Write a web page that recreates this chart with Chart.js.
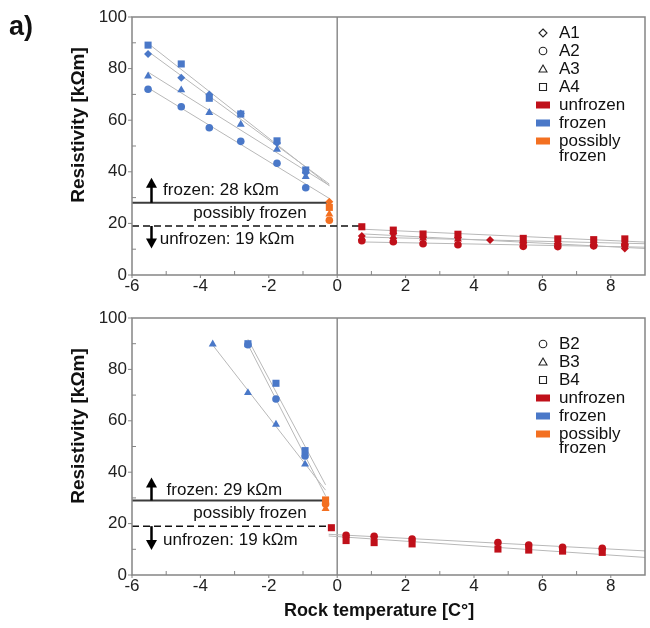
<!DOCTYPE html>
<html>
<head>
<meta charset="utf-8">
<script src="https://cdn.jsdelivr.net/npm/chart.js@4.4.0/dist/chart.umd.min.js"></script>
<style>
  html, body { margin: 0; padding: 0; background: #fff; }
  #wrap { position: relative; width: 650px; height: 628px; }
  canvas { position: absolute; left: 0; }
  #chartA { top: 0; }
  #chartB { top: 300px; }
</style>
</head>
<body>
<div id="wrap">
  <canvas id="chartA" width="650" height="300"></canvas>
  <canvas id="chartB" width="650" height="328"></canvas>
</div>
<script>
const BLUE = '#4a78c8', RED = '#c0101a', ORANGE = '#f37021';
const FONT = "'Liberation Sans', Arial, sans-serif";

const xTicks = [-6, -4, -2, 0, 2, 4, 6, 8];
const yTicks = [0, 20, 40, 60, 80, 100];

// --- panel a, upper: samples A1..A4
const tempAFrozen = [-5.53, -4.56, -3.74, -2.82, -1.76, -0.92];
const tempAPossibly = [-0.23];
const tempAUnfrozen = [0.72, 1.64, 2.51, 3.53, 4.47, 5.44, 6.45, 7.5, 8.41];
const a1Frozen = [85.7, 76.5, 70.0, 62.6, 51.2, 39.6];
const a2Frozen = [72.0, 65.2, 57.1, 51.8, 43.3, 33.8];
const a3Frozen = [77.1, 71.7, 62.9, 58.4, 48.7, 38.1];
const a4Frozen = [89.1, 81.8, 68.5, 62.4, 52.0, 40.7];
const a1Possibly = [28.4];
const a2Possibly = [21.2];
const a3Possibly = [23.6];
const a4Possibly = [26.2];
const a1Unfrozen = [15.1, 16.0, 14.6, 14.4, 13.6, 12.6, 12.1, 11.4, 10.3];
const a2Unfrozen = [13.3, 12.9, 12.1, 11.7, null, 11.1, 11.0, 11.3, 11.6];
const a3Unfrozen = [14.4, 14.8, 14.3, 13.9, null, 13.0, 12.7, 12.5, 12.6];
const a4Unfrozen = [18.7, 17.4, 15.9, 15.8, null, 14.2, 14.0, 13.7, 14.0];
const frozenLimitA = 28, unfrozenLimitA = 19;

// --- lower: samples B2..B4
const tempBFrozen = [-3.64, -2.61, -1.79, -0.94];
const tempBPossibly = [-0.34];
const tempBUnfrozen = [-0.17, 0.26, 1.08, 2.19, 4.7, 5.6, 6.59, 7.75];
const b2Frozen = [null, 89.6, 68.5, 46.3];
const b3Frozen = [89.8, 70.9, 58.6, 43.1];
const b4Frozen = [null, 90.0, 74.6, 48.4];
const b2Possibly = [27.6];
const b3Possibly = [25.8];
const b4Possibly = [29.2];
const b2Unfrozen = [null, 15.4, 15.1, 14.0, 12.6, 11.7, 10.8, 10.4];
const b4Unfrozen = [18.4, 13.4, 12.6, 12.1, 10.1, 9.7, 9.3, 8.8];
const frozenLimitB = 29, unfrozenLimitB = 19;

const legendA = ['A1', 'A2', 'A3', 'A4'];
const legendB = ['B2', 'B3', 'B4'];
const stateLabels = ['unfrozen', 'frozen', 'possibly frozen'];

const radius = { rect: 5, rectRot: 4, circle: 3.8, triangle: 4.6 };

function pts(xs, ys) {
  return xs.map((x, i) => ({ x: x, y: ys[i] })).filter(p => p.y != null);
}

function fit(xs, ys, x0, x1) {
  const p = pts(xs, ys);
  const n = p.length;
  const mx = p.reduce((s, q) => s + q.x, 0) / n;
  const my = p.reduce((s, q) => s + q.y, 0) / n;
  let sxy = 0, sxx = 0;
  p.forEach(q => { sxy += (q.x - mx) * (q.y - my); sxx += (q.x - mx) * (q.x - mx); });
  const m = sxy / sxx, b = my - m * mx;
  return [{ x: x0, y: m * x0 + b }, { x: x1, y: m * x1 + b }];
}

function markers(xs, ys, color, style) {
  return {
    data: pts(xs, ys), pointStyle: style, pointRadius: radius[style],
    backgroundColor: color, borderColor: color, borderWidth: 0, showLine: false, order: 1
  };
}

function trend(xs, ys, x0, x1) {
  return {
    data: fit(xs, ys, x0, x1), showLine: true, pointRadius: 0,
    borderColor: '#b8b8b8', borderWidth: 1, order: 2
  };
}

function line(ctx, x0, y0, x1, y1) {
  ctx.beginPath(); ctx.moveTo(x0, y0); ctx.lineTo(x1, y1); ctx.stroke();
}

function arrow(ctx, x, yFrom, yTo) {
  const dir = yTo < yFrom ? -1 : 1;
  ctx.strokeStyle = '#000'; ctx.fillStyle = '#000'; ctx.lineWidth = 2.5;
  line(ctx, x, yFrom, x, yTo - dir * 8);
  ctx.beginPath();
  ctx.moveTo(x, yTo);
  ctx.lineTo(x - 5.5, yTo - dir * 10);
  ctx.lineTo(x + 5.5, yTo - dir * 10);
  ctx.closePath(); ctx.fill();
}

function shape(ctx, kind, x, y) {
  ctx.strokeStyle = '#222'; ctx.lineWidth = 1.1;
  ctx.beginPath();
  if (kind === 'A1') { ctx.moveTo(x, y - 4); ctx.lineTo(x + 4, y); ctx.lineTo(x, y + 4); ctx.lineTo(x - 4, y); ctx.closePath(); }
  else if (kind.endsWith('2')) { ctx.arc(x, y, 3.8, 0, Math.PI * 2); }
  else if (kind.endsWith('3')) { ctx.moveTo(x, y - 4); ctx.lineTo(x + 4, y + 3); ctx.lineTo(x - 4, y + 3); ctx.closePath(); }
  else { ctx.rect(x - 3.5, y - 3.5, 7, 7); }
  ctx.stroke();
}

const decor = {
  id: 'decor',
  beforeDatasetsDraw(chart, args, o) {
    const { ctx, chartArea: a, scales: { x, y } } = chart;
    ctx.save();
    ctx.strokeStyle = '#8c8c8c'; ctx.lineWidth = 1.5;
    line(ctx, x.getPixelForValue(0), a.top, x.getPixelForValue(0), a.bottom);

    const yf = y.getPixelForValue(o.frozen), yu = y.getPixelForValue(o.unfrozen);
    ctx.strokeStyle = '#3c3c3c'; ctx.lineWidth = 2;
    line(ctx, a.left, yf, x.getPixelForValue(o.frozenEnd), yf);
    ctx.setLineDash([7, 4]); ctx.strokeStyle = '#111'; ctx.lineWidth = 1.5;
    line(ctx, a.left, yu, x.getPixelForValue(o.unfrozenEnd), yu);
    ctx.setLineDash([]);

    const ax = x.getPixelForValue(o.arrowX);
    arrow(ctx, ax, yf, y.getPixelForValue(o.upTip));
    arrow(ctx, ax, yu, y.getPixelForValue(o.downTip));

    ctx.fillStyle = '#111'; ctx.font = '17px ' + FONT; ctx.textBaseline = 'middle';
    o.texts.forEach(t => {
      ctx.textAlign = t.align;
      ctx.fillText(t.text, x.getPixelForValue(t.x), y.getPixelForValue(t.y));
    });
    ctx.restore();
  },
  afterDraw(chart, args, o) {
    const { ctx, chartArea: a, scales: { x, y } } = chart;
    ctx.save();
    // frame
    ctx.strokeStyle = '#858585'; ctx.lineWidth = 1.5;
    ctx.strokeRect(a.left, a.top, a.right - a.left, a.bottom - a.top);
    // ticks: major outward, minor inward
    ctx.lineWidth = 1;
    yTicks.forEach(v => { const p = y.getPixelForValue(v); line(ctx, a.left - 4, p, a.left, p); });
    xTicks.forEach(v => { const p = x.getPixelForValue(v); line(ctx, p, a.bottom, p, a.bottom + 3); });
    for (let v = 10; v < 100; v += 20) { const p = y.getPixelForValue(v); line(ctx, a.left, p, a.left + 4, p); }
    for (let v = -5; v < 9; v += 2) { const p = x.getPixelForValue(v); line(ctx, p, a.bottom, p, a.bottom - 4); }

    // legend
    const lx = a.right - 102, tx = a.right - 86;
    let ly = a.top + o.legendTop;
    ctx.font = '17px ' + FONT; ctx.textBaseline = 'middle'; ctx.textAlign = 'left'; ctx.fillStyle = '#111';
    o.samples.forEach(s => {
      shape(ctx, s, lx, ly);
      ctx.fillStyle = '#111'; ctx.fillText(s, tx, ly);
      ly += 18;
    });
    const cols = [RED, BLUE, ORANGE];
    stateLabels.forEach((lab, i) => {
      ctx.fillStyle = cols[i]; ctx.fillRect(lx - 7, ly - 3.5, 14, 7);
      ctx.fillStyle = '#111';
      const parts = lab === 'possibly frozen' ? ['possibly', 'frozen'] : [lab];
      parts.forEach((p, j) => ctx.fillText(p, tx, ly + j * o.wrap));
      ly += 18;
    });

    // axis titles
    ctx.font = 'bold 19px ' + FONT; ctx.fillStyle = '#111';
    ctx.save();
    ctx.translate(79, a.top + 108); ctx.rotate(-Math.PI / 2);
    ctx.textAlign = 'center'; ctx.fillText('Resistivity [kΩm]', 0, 0);
    ctx.restore();
    if (o.xTitle) {
      ctx.font = 'bold 18px ' + FONT; ctx.textAlign = 'center';
      ctx.fillText(o.xTitle, 379, a.bottom + 36);
    }
    if (o.panel) {
      ctx.font = 'bold 27px ' + FONT; ctx.textAlign = 'left';
      ctx.fillText(o.panel, 9, 28);
    }
    ctx.restore();
  }
};

function options(top, xh, deco) {
  return {
    responsive: false,
    animation: false,
    layout: { padding: { top: top, right: 1, left: 0, bottom: 0 } },
    plugins: { legend: { display: false }, tooltip: { enabled: false }, decor: deco },
    scales: {
      x: {
        type: 'linear', min: -6, max: 9,
        grid: { display: false, drawTicks: false }, border: { display: false },
        ticks: { padding: 1, color: '#222', font: { size: 17, family: FONT } },
        afterBuildTicks: s => { s.ticks = xTicks.map(v => ({ value: v })); },
        afterFit: s => { s.height = xh; }
      },
      y: {
        type: 'linear', min: 0, max: 100,
        grid: { display: false, drawTicks: false }, border: { display: false },
        ticks: { padding: 5, color: '#222', font: { size: 17, family: FONT } },
        afterBuildTicks: s => { s.ticks = yTicks.map(v => ({ value: v })); },
        afterFit: s => { s.width = 132; }
      }
    }
  };
}

const px = tempAPossibly[0];
new Chart(document.getElementById('chartA'), {
  type: 'scatter',
  plugins: [decor],
  data: {
    datasets: [
      markers(tempAFrozen, a4Frozen, BLUE, 'rect'),
      markers(tempAFrozen, a1Frozen, BLUE, 'rectRot'),
      markers(tempAFrozen, a3Frozen, BLUE, 'triangle'),
      markers(tempAFrozen, a2Frozen, BLUE, 'circle'),
      markers(tempAPossibly, a1Possibly, ORANGE, 'rectRot'),
      markers(tempAPossibly, a4Possibly, ORANGE, 'rect'),
      markers(tempAPossibly, a3Possibly, ORANGE, 'triangle'),
      markers(tempAPossibly, a2Possibly, ORANGE, 'circle'),
      markers(tempAUnfrozen, a4Unfrozen, RED, 'rect'),
      markers(tempAUnfrozen, a1Unfrozen, RED, 'rectRot'),
      markers(tempAUnfrozen, a3Unfrozen, RED, 'triangle'),
      markers(tempAUnfrozen, a2Unfrozen, RED, 'circle'),
      trend(tempAFrozen, a1Frozen, tempAFrozen[0], px),
      trend(tempAFrozen, a2Frozen, tempAFrozen[0], px),
      trend(tempAFrozen, a3Frozen, tempAFrozen[0], px),
      trend(tempAFrozen, a4Frozen, tempAFrozen[0], px),
      trend(tempAUnfrozen, a1Unfrozen, tempAUnfrozen[0], 9),
      trend(tempAUnfrozen, a2Unfrozen, tempAUnfrozen[0], 9),
      trend(tempAUnfrozen, a3Unfrozen, tempAUnfrozen[0], 9),
      trend(tempAUnfrozen, a4Unfrozen, tempAUnfrozen[0], 9)
    ]
  },
  options: options(17, 25, {
    frozen: frozenLimitA, unfrozen: unfrozenLimitA, frozenEnd: -0.3, unfrozenEnd: 0.65,
    arrowX: -5.43, upTip: 37.7, downTip: 10.3,
    texts: [
      { text: 'frozen: 28 kΩm', x: -5.09, y: 32.9, align: 'left' },
      { text: 'possibly frozen', x: -2.55, y: 24.0, align: 'center' },
      { text: 'unfrozen: 19 kΩm', x: -5.19, y: 13.8, align: 'left' }
    ],
    samples: legendA, legendTop: 16, wrap: 15, panel: 'a)'
  })
});

const qx = tempBPossibly[0];
new Chart(document.getElementById('chartB'), {
  type: 'scatter',
  plugins: [decor],
  data: {
    datasets: [
      markers(tempBFrozen, b4Frozen, BLUE, 'rect'),
      markers(tempBFrozen, b2Frozen, BLUE, 'circle'),
      markers(tempBFrozen, b3Frozen, BLUE, 'triangle'),
      markers(tempBPossibly, b4Possibly, ORANGE, 'rect'),
      markers(tempBPossibly, b2Possibly, ORANGE, 'circle'),
      markers(tempBPossibly, b3Possibly, ORANGE, 'triangle'),
      markers(tempBUnfrozen, b4Unfrozen, RED, 'rect'),
      markers(tempBUnfrozen, b2Unfrozen, RED, 'circle'),
      trend(tempBFrozen, b2Frozen, tempBFrozen[1], qx),
      trend(tempBFrozen, b3Frozen, tempBFrozen[0], qx),
      trend(tempBFrozen, b4Frozen, tempBFrozen[1], qx),
      trend(tempBUnfrozen, b2Unfrozen, -0.25, 9),
      trend(tempBUnfrozen, b4Unfrozen, -0.25, 9)
    ]
  },
  options: options(18, 53, {
    frozen: frozenLimitB, unfrozen: unfrozenLimitB, frozenEnd: -0.4, unfrozenEnd: -0.3,
    arrowX: -5.43, upTip: 37.9, downTip: 9.7,
    texts: [
      { text: 'frozen: 29 kΩm', x: -4.99, y: 33.1, align: 'left' },
      { text: 'possibly frozen', x: -2.55, y: 24.0, align: 'center' },
      { text: 'unfrozen: 19 kΩm', x: -5.09, y: 13.6, align: 'left' }
    ],
    samples: legendB, legendTop: 26, wrap: 14, xTitle: 'Rock temperature [C°]'
  })
});
</script>
</body>
</html>
